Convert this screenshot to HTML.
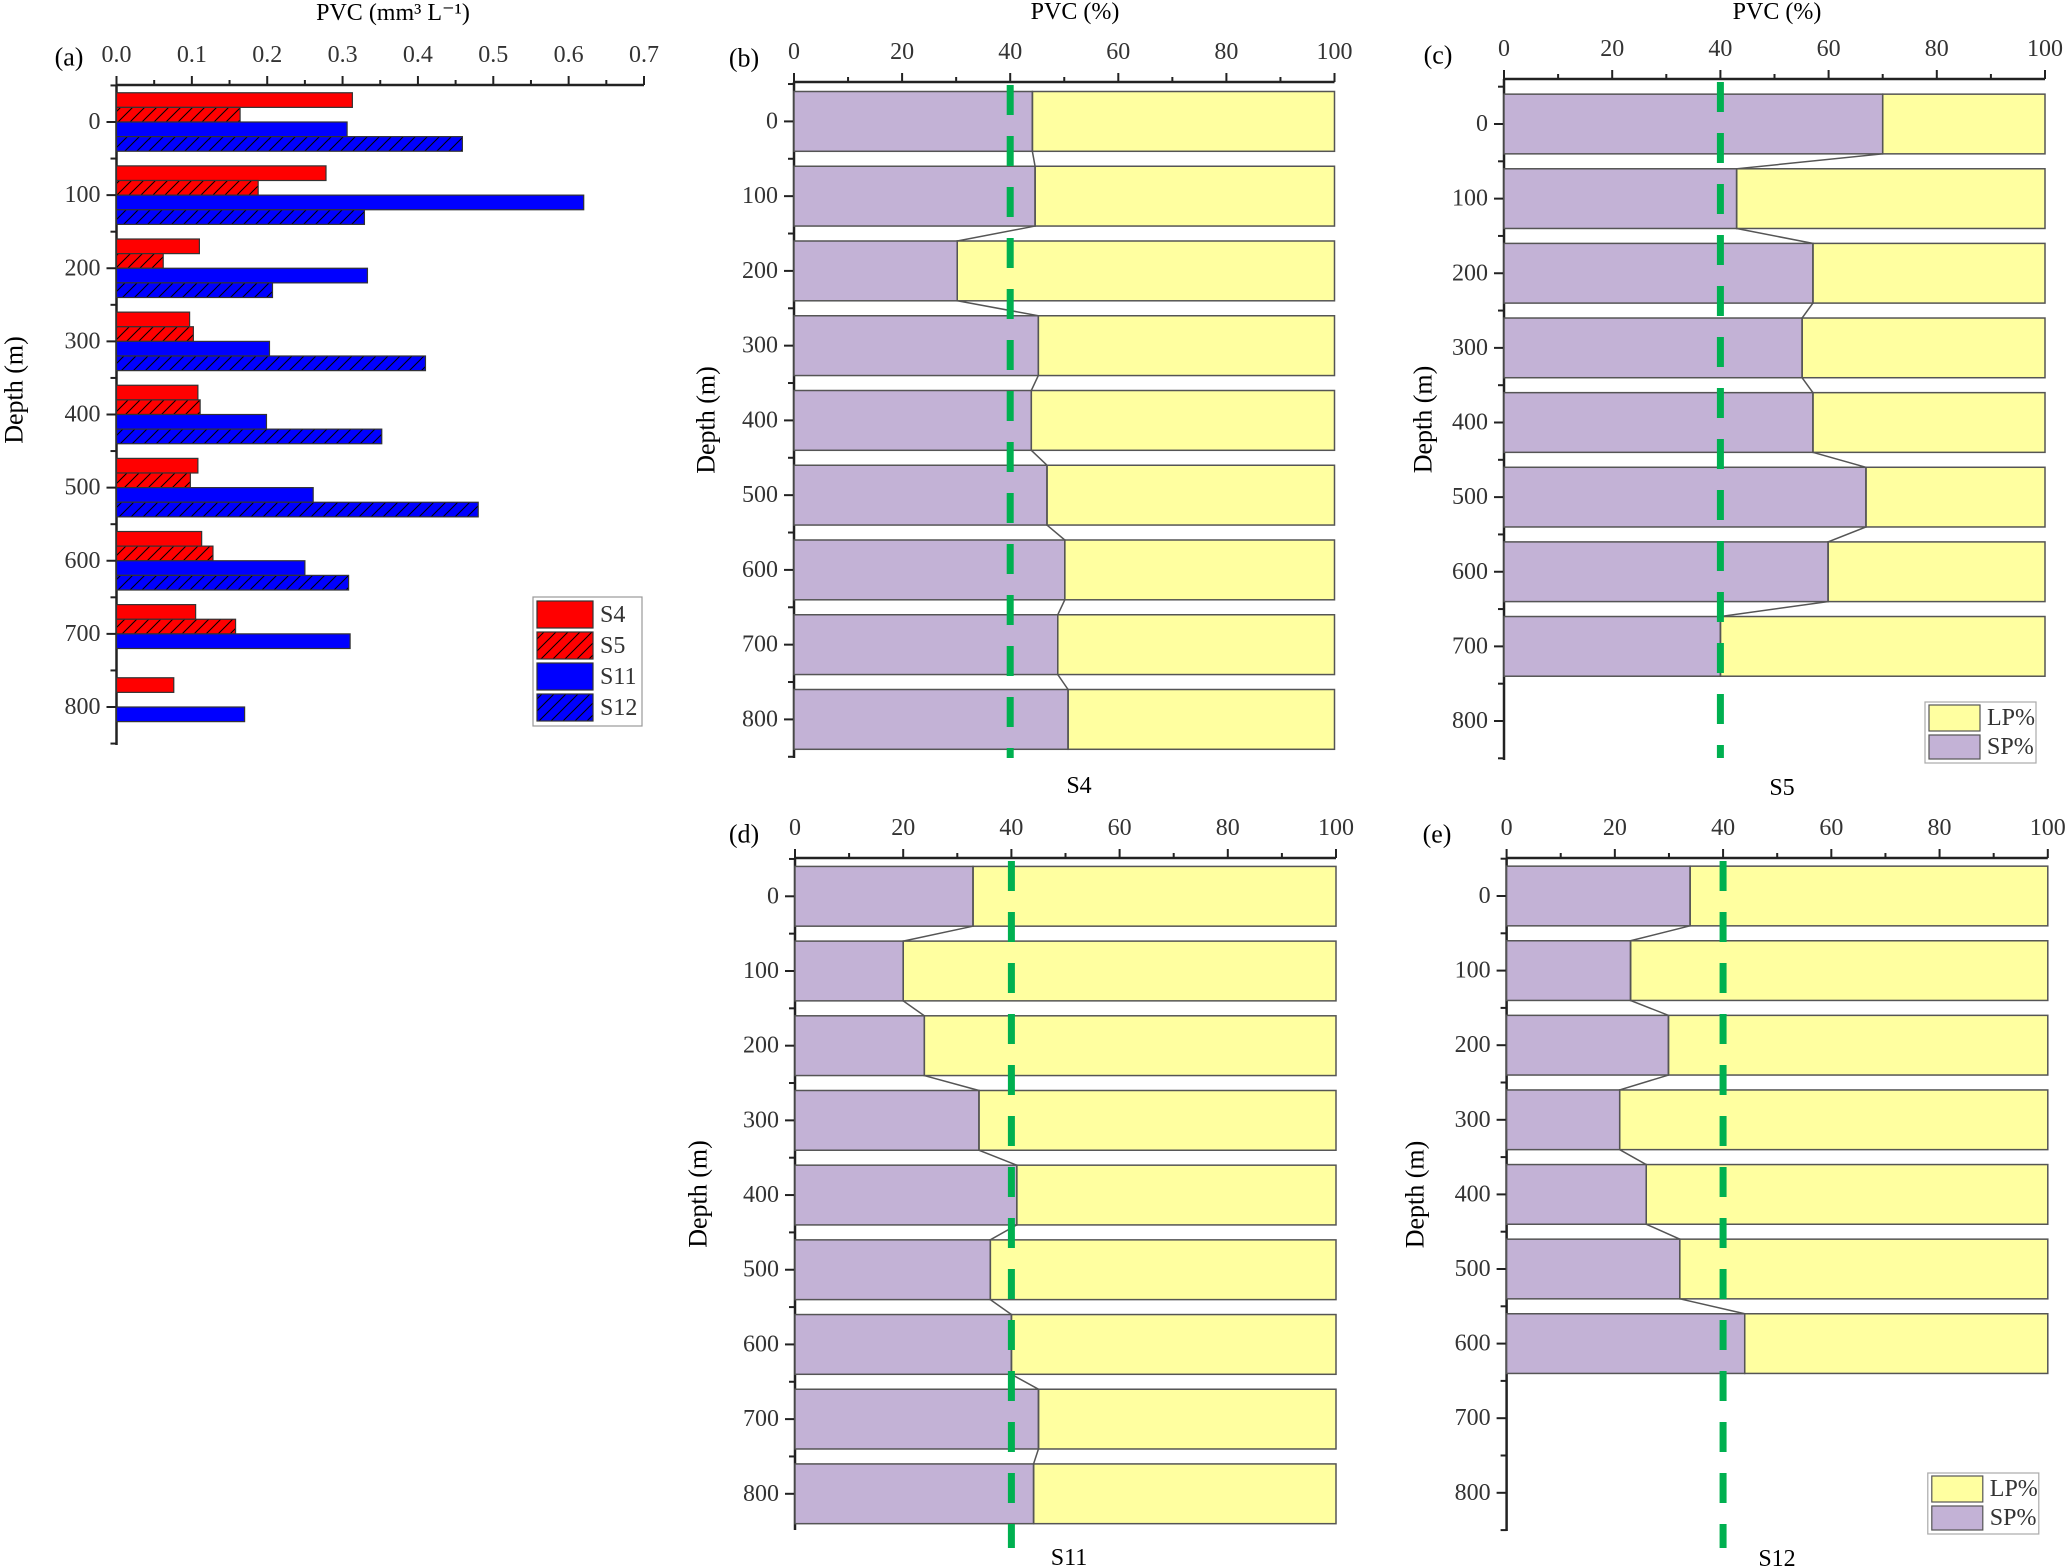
<!DOCTYPE html>
<html><head><meta charset="utf-8"><style>
html,body{margin:0;padding:0;background:#fff}
svg{display:block;font-family:"Liberation Serif",serif}
</style></head><body>
<svg id="fig" width="2067" height="1566" viewBox="0 0 2067 1566" xmlns="http://www.w3.org/2000/svg"></svg>
<script>
// ---------- Panel (a) data ----------
const depthsA = [0,100,200,300,400,500,600,700,800];
const seriesNames = ["S4","S5","S11","S12"];
const valS4  = [0.313,0.278,0.110,0.097,0.108,0.108,0.113,0.105,0.076];
const valS5  = [0.164,0.188,0.062,0.102,0.111,0.098,0.128,0.158,null];
const valS11 = [0.306,0.620,0.333,0.203,0.199,0.261,0.250,0.310,0.170];
const valS12 = [0.459,0.329,0.207,0.410,0.352,0.480,0.308,null,null];
const xTicksA = ["0.0","0.1","0.2","0.3","0.4","0.5","0.6","0.7"];
const yTicks = ["0","100","200","300","400","500","600","700","800"];
// ---------- Percentage panels data ----------
const depthsS4 = [0,100,200,300,400,500,600,700,800];
const spS4 = [44.1,44.6,30.2,45.2,43.9,46.8,50.1,48.8,50.7];
const depthsS5 = [0,100,200,300,400,500,600,700];
const spS5 = [70.0,43.0,57.1,55.1,57.1,66.9,59.9,40.0];
const depthsS11 = [0,100,200,300,400,500,600,700,800];
const spS11 = [32.9,20.0,23.9,34.0,41.0,36.1,40.0,45.0,44.1];
const depthsS12 = [0,100,200,300,400,500,600];
const spS12 = [33.9,22.9,29.9,20.9,25.8,32.0,44.0];
const xTicksP = ["0","20","40","60","80","100"];
const threshold = 40;

const NS="http://www.w3.org/2000/svg";
const svg=document.getElementById('fig');
const TICK=24;
function mk(tag,attrs,parent){const e=document.createElementNS(NS,tag);for(const k in attrs)e.setAttribute(k,attrs[k]);(parent||svg).appendChild(e);return e;}
function txt(s,x,y,size,anchor,parent,fill){const t=mk('text',{x:x,y:y,'font-size':size,'text-anchor':anchor||'middle','dominant-baseline':'central',fill:fill||'#000'},parent);t.textContent=s;return t;}

const defs=mk('defs',{});
function hatch(id,color){const p=mk('pattern',{id:id,patternUnits:'userSpaceOnUse',width:12,height:12},defs);
mk('rect',{x:0,y:0,width:12,height:12,fill:color},p);
mk('path',{d:'M-3,15 L15,-3 M-3,3 L3,-3 M9,15 L15,9',stroke:'#000','stroke-width':1},p);}
hatch('hatchRed','#ff0000');hatch('hatchBlue','#0000ff');

function axes(g,P,xLabels){
  mk('line',{x1:P.x0,y1:P.axY,x2:P.x1,y2:P.axY,stroke:'#222','stroke-width':2.5},g);
  const n=xLabels.length-1;
  for(let i=0;i<=n;i++){const x=P.x0+(P.x1-P.x0)*i/n;
    const tk=mk('line',{x1:x,y1:P.axY,x2:x,y2:P.axY-9,stroke:'#222','stroke-width':2},g);
    
    
    const t=txt(xLabels[i],x,P.axY-30,TICK,'middle',g,'#333');
    
    
    if(i<n){const xm=x+(P.x1-P.x0)/n/2;mk('line',{x1:xm,y1:P.axY,x2:xm,y2:P.axY-5,stroke:'#222','stroke-width':2},g);}
  }
  mk('line',{x1:P.x0,y1:P.axY,x2:P.x0,y2:P.yBot,stroke:'#222','stroke-width':2.5},g);
  const Y=d=>P.y0+(P.y800-P.y0)*d/800;
  for(let d=-50;d<=850;d+=50){const y=Y(d);if(y<P.axY-1||y>P.yBot+1)continue;
    const major=d%100===0&&d>=0;
    mk('line',{x1:P.x0,y1:y,x2:P.x0-(major?10:6),y2:y,stroke:'#222','stroke-width':2},g);
    if(major&&d<=800){const t=txt(String(d),P.x0-16,y,TICK,'end',g,'#333');
      
      }
  }
  return Y;
}

(function(){
  const g=mk('g',{});
  
  
  const P={x0:116.5,x1:644,axY:85,yBot:745,y0:122,y800:707};
  const X=v=>P.x0+(P.x1-P.x0)*v/0.7;
  const Y=axes(g,P,xTicksA);
  const fills=['#ff0000','url(#hatchRed)','#0000ff','url(#hatchBlue)'];
  const all=[valS4,valS5,valS11,valS12];
  depthsA.forEach((d,i)=>{
    all.forEach((arr,s)=>{const v=arr[i];if(v==null)return;
      const yt=Y(d-40+20*s),yb=Y(d-20+20*s);
      const r=mk('rect',{x:X(0),y:yt,width:X(v)-X(0),height:yb-yt,fill:fills[s],stroke:'#333','stroke-width':1.2},g);
      
      
    });
  });
  const t1=txt('PVC (mm³ L⁻¹)',393,13,24,'middle',g);
  
  
  const tl=txt('(a)',69,57,26,'middle',g);
  
  
  const yt=txt('Depth (m)',0,0,26,'middle',g);yt.setAttribute('transform','translate(14,390) rotate(-90)');
  
  
  const lg=mk('g',{},g);
  
  
  mk('rect',{x:533,y:597,width:109,height:129,fill:'#fff',stroke:'#999','stroke-width':1.2},lg);
  seriesNames.forEach((n,s)=>{const y=601+s*31;
    const e=mk('g',{},lg);
    
    
    mk('rect',{x:537,y:y,width:56,height:27,fill:fills[s],stroke:'#333','stroke-width':1.2},e);
    txt(n,600,y+14,TICK,'start',e,'#333');
  });
})();

function pctPanel(name,P,depths,sp,label,site,legend){
  const g=mk('g',{});
  
  
  const X=v=>P.x0+(P.x1-P.x0)*v/100;
  const Y=axes(g,P,xTicksP);
  depths.forEach((d,i)=>{const yt=Y(d-40),yb=Y(d+40);
    const r1=mk('rect',{x:X(sp[i]),y:yt,width:X(100)-X(sp[i]),height:yb-yt,fill:'#ffffa0',stroke:'#555','stroke-width':1.5},g);
    
    
    const r2=mk('rect',{x:X(0),y:yt,width:X(sp[i])-X(0),height:yb-yt,fill:'#c3b2d6',stroke:'#555','stroke-width':1.5},g);
    
    
  });
  let pts=[];depths.forEach((d,i)=>{pts.push(X(sp[i])+','+Y(d-40));pts.push(X(sp[i])+','+Y(d+40));});
  const pl=mk('polyline',{points:pts.join(' '),fill:'none',stroke:'#555','stroke-width':1.5},g);
  
  
  const dl=mk('line',{x1:X(threshold),y1:P.axY+3,x2:X(threshold),y2:P.dashEnd,stroke:'#00b050','stroke-width':7,'stroke-dasharray':'30 21'},g);
  
  
  if(P.title){const t=txt('PVC (%)',P.titleX,12,24,'middle',g);
    
    }
  const tl=txt(label,P.labX,P.axY-24,26,'middle',g);
  
  
  const yt=txt('Depth (m)',0,0,26,'middle',g);yt.setAttribute('transform','translate('+P.ytX+','+((P.axY+P.yBot)/2)+') rotate(-90)');
  
  
  const st=txt(site,P.siteX,P.yBot+28,TICK,'middle',g);
  
  
  if(legend){const lg=mk('g',{},g);
    
    
    const lx=P.x1-120,ly=P.yBot-58;
    mk('rect',{x:lx,y:ly,width:111,height:61,fill:'#fff',stroke:'#aaa','stroke-width':1.2},lg);
    const e1=mk('g',{},lg);
    
    
    mk('rect',{x:lx+4,y:ly+3,width:51,height:26,fill:'#ffffa0',stroke:'#555','stroke-width':1.2},e1);
    txt('LP%',lx+62,ly+16,TICK,'start',e1,'#333');
    const e2=mk('g',{},lg);
    
    
    mk('rect',{x:lx+4,y:ly+33,width:51,height:24,fill:'#c3b2d6',stroke:'#555','stroke-width':1.2},e2);
    txt('SP%',lx+62,ly+45,TICK,'start',e2,'#333');
  }
}
pctPanel('b',{x0:794,x1:1334.5,axY:82,yBot:758,y0:121.4,y800:719.4,dashEnd:758,title:true,titleX:1075,labX:744,ytX:706,siteX:1079},depthsS4,spS4,'(b)','S4',false);
pctPanel('c',{x0:1504,x1:2045,axY:79,yBot:760,y0:124,y800:721,dashEnd:758,title:true,titleX:1777,labX:1438,ytX:1423,siteX:1782},depthsS5,spS5,'(c)','S5',true);
pctPanel('d',{x0:795,x1:1336,axY:858,yBot:1530,y0:896.3,y800:1493.8,dashEnd:1548,title:false,labX:744,ytX:698,siteX:1069},depthsS11,spS11,'(d)','S11',false);
pctPanel('e',{x0:1506.6,x1:2047.8,axY:858,yBot:1531,y0:896,y800:1492.8,dashEnd:1548,title:false,labX:1437,ytX:1415,siteX:1777},depthsS12,spS12,'(e)','S12',true);
</script>
</body></html>
